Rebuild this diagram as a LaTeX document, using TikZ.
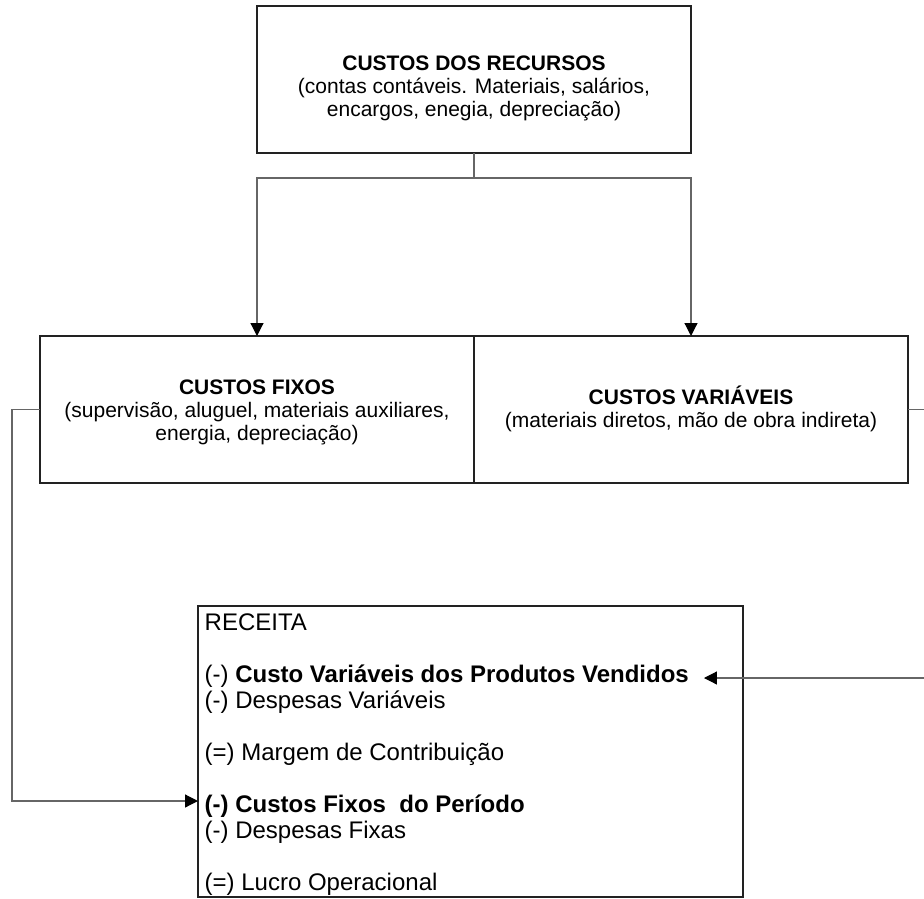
\documentclass[tikz,border=0pt]{standalone}
\usepackage{fontspec}
\setmainfont{Liberation Sans}
\usetikzlibrary{arrows.meta,calc}
\definecolor{boxline}{HTML}{222222}
\definecolor{linkline}{HTML}{666666}
\begin{document}
\begin{tikzpicture}[x=1pt,y=-1pt,
  costbox/.style={draw=boxline,line width=1.3pt,inner sep=0pt,outer sep=0pt},
  boxtext/.style={align=center,font=\fontsize{21}{23}\selectfont,inner sep=0pt},
  dretext/.style={anchor=base west,font=\fontsize{24}{26}\selectfont,inner sep=0pt},
  link/.style={draw=linkline,line width=1.2pt},
  tip/.style={-{Triangle[length=13pt,width=13pt,color=black]}}
]
\useasboundingbox (0,0) rectangle (924,899);

% boxes
\node[costbox,minimum width=434pt,minimum height=147pt] (top) at (474,79.5) {};
\node[costbox,minimum width=434pt,minimum height=147pt] (fixos) at (257,409.5) {};
\node[costbox,minimum width=434pt,minimum height=147pt] (var) at (691,409.5) {};
\node[costbox,minimum width=545pt,minimum height=291pt] (dre) at (470.5,751.5) {};

% box texts
\node[boxtext] (toptext) at (474,88) {\textbf{CUSTOS DOS RECURSOS}\\(contas contáveis. Materiais, salários,\\encargos, enegia, depreciação)};
\node[boxtext] (fixostext) at (257,412) {\textbf{CUSTOS FIXOS}\\(supervisão, aluguel, materiais auxiliares,\\energia, depreciação)};
\node[boxtext] (vartext) at (691,409) {\textbf{CUSTOS VARIÁVEIS}\\(materiais diretos, mão de obra indireta)};

% income statement lines
\node[dretext] (rec) at (204.5,630) {RECEITA};
\node[dretext] (cv) at (204.5,682) {(-) \textbf{Custo Variáveis dos Produtos Vendidos}};
\node[dretext] (dv) at (204.5,708) {(-) Despesas Variáveis};
\node[dretext] (mc) at (204.5,760) {(=) Margem de Contribuição};
\node[dretext] (cf) at (204.5,812) {\textbf{(-) Custos Fixos\ \ do Período}};
\node[dretext] (df) at (204.5,838) {(-) Despesas Fixas};
\node[dretext] (lo) at (204.5,890) {(=) Lucro Operacional};

% connectors
\coordinate (cfin) at ($(cf.base west)+(0,-11)$);
\coordinate (cvin) at ($(cv.base east)+(15,-4)$);
\draw[link] (top.south) -- ++(0,25) coordinate (split);
\draw[link,tip] (split) -| (fixos.north);
\draw[link,tip] (split) -| (var.north);
\draw[link,tip] (fixos.west) -- ++(-28,0) |- (dre.west |- cfin);
\draw[link,tip] (var.east) -- ++(18,0) |- (cvin);
\end{tikzpicture}
\end{document}
